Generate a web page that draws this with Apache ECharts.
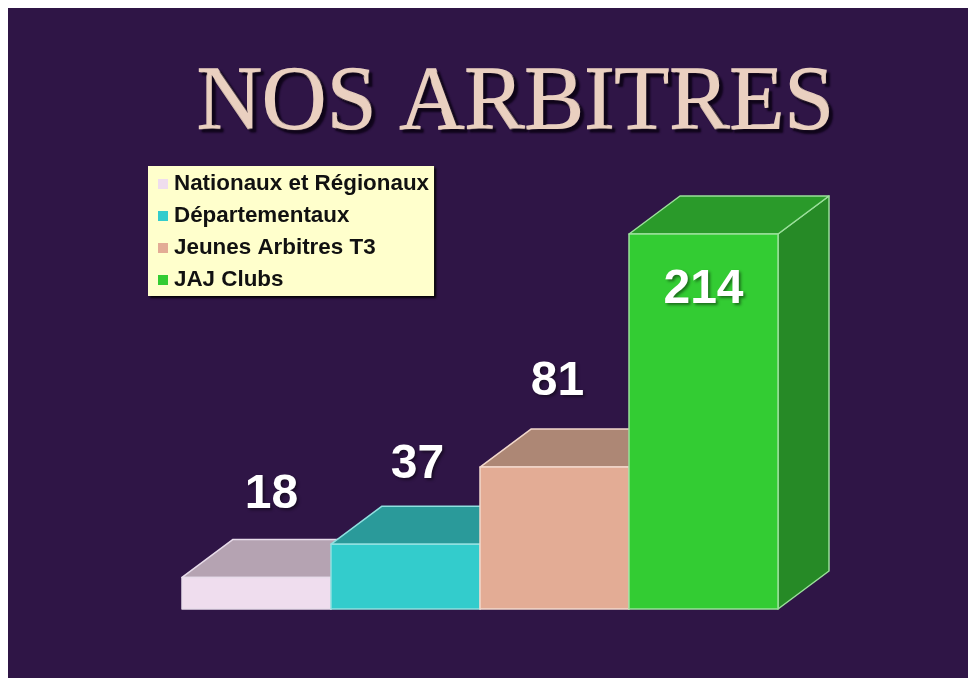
<!DOCTYPE html>
<html>
<head>
<meta charset="utf-8">
<title>NOS ARBITRES</title>
<script src="https://cdn.jsdelivr.net/npm/echarts@6/dist/echarts.min.js"></script>
<style>
    html, body { margin: 0; background: #fff; overflow: hidden; }
    #chart { position: absolute; left: 8px; top: 8px; width: 960px; height: 670px; }
</style>
</head>
<body>
<div id="chart"></div>
<script>
var categories = ["Nationaux et Régionaux", "Départementaux", "Jeunes Arbitres T3", "JAJ Clubs"];
var values = [18, 37, 81, 214];
var frontColors = ["#EFDDEE", "#33CCCC", "#E3AC95", "#33CC33"];
var topColors = ["#B5A3B2", "#2A9A9A", "#AD8775", "#2A9A2A"];
var sideColors = ["#A594A2", "#228888", "#9A7868", "#268A26"];
var edgeColors = ["#E8DCEA", "#8FE0E0", "#F2D8CC", "#9BE09B"];

// where each number sits, measured from the top centre of its bar
var labelDx = [15, 12, 3, 0];
var labelDy = [-83, -79, -85, 56];
var depthX = 51;
var depthY = 38;

var myChart = echarts.init(document.getElementById("chart"));

function renderBar(params, api) {
    var i = api.value(0);
    var top = api.coord([i, api.value(1)]);
    var base = api.coord([i, 0]);
    var w = api.size([1, 0])[0];
    var x0 = top[0] - w / 2;
    var x1 = top[0] + w / 2;
    var edge = { stroke: edgeColors[i], lineWidth: 1.5, lineJoin: "round" };
    return {
        type: "group",
        silent: true,
        children: [
            {
                type: "polygon",
                shape: { points: [[x1, top[1]], [x1 + depthX, top[1] - depthY], [x1 + depthX, base[1] - depthY], [x1, base[1]]] },
                style: Object.assign({ fill: sideColors[i] }, edge)
            },
            {
                type: "polygon",
                shape: { points: [[x0, top[1]], [x0 + depthX, top[1] - depthY], [x1 + depthX, top[1] - depthY], [x1, top[1]]] },
                style: Object.assign({ fill: topColors[i] }, edge)
            },
            {
                type: "rect",
                shape: { x: x0, y: top[1], width: w, height: base[1] - top[1] },
                style: Object.assign({ fill: frontColors[i] }, edge)
            },
            {
                type: "text",
                style: {
                    x: top[0] + labelDx[i],
                    y: top[1] + labelDy[i],
                    text: String(values[i]),
                    align: "center",
                    verticalAlign: "middle",
                    fill: "#FFFFFF",
                    font: "bold 48px 'Liberation Sans', Arial, sans-serif",
                    textShadowColor: "rgba(0,0,0,0.45)",
                    textShadowBlur: 3,
                    textShadowOffsetX: 2,
                    textShadowOffsetY: 2
                }
            }
        ]
    };
}

var option = {
    animation: false,
    backgroundColor: "#2F1546",
    title: {
        text: "NOS ARBITRES",
        left: 184,
        top: 47,
        textStyle: {
            color: "#EAD0C0",
            fontFamily: "'Liberation Serif', 'Times New Roman', serif",
            fontWeight: "normal",
            fontSize: 90,
            textBorderColor: "#EAD0C0",
            textBorderWidth: 1.5,
            textShadowColor: "#0E0418",
            textShadowBlur: 2,
            textShadowOffsetX: 3,
            textShadowOffsetY: 3
        }
    },
    legend: {
        orient: "vertical",
        left: 140,
        top: 158,
        selectedMode: false,
        icon: "rect",
        itemWidth: 10,
        itemHeight: 10,
        itemGap: 8,
        padding: [6, 5, 4, 10],
        backgroundColor: "#FFFFCC",
        shadowColor: "rgba(0,0,0,0.9)",
        shadowBlur: 2,
        shadowOffsetX: 2,
        shadowOffsetY: 2,
        data: categories,
        textStyle: {
            color: "#111111",
            fontFamily: "'Liberation Sans', Arial, sans-serif",
            fontWeight: "bold",
            fontSize: 22.4,
            lineHeight: 23,
            padding: [1, 0, 0, 1]
        }
    },
    grid: { left: 174, top: 226, width: 596, height: 375 },
    xAxis: { type: "category", show: false, data: categories },
    yAxis: { type: "value", show: false, min: 0, max: 214 },
    series: categories.map(function (name, i) {
        return {
            type: "custom",
            name: name,
            itemStyle: { color: frontColors[i] },
            encode: { x: 0, y: 1 },
            data: [[i, values[i]]],
            renderItem: renderBar
        };
    })
};
myChart.setOption(option);
</script>
</body>
</html>
